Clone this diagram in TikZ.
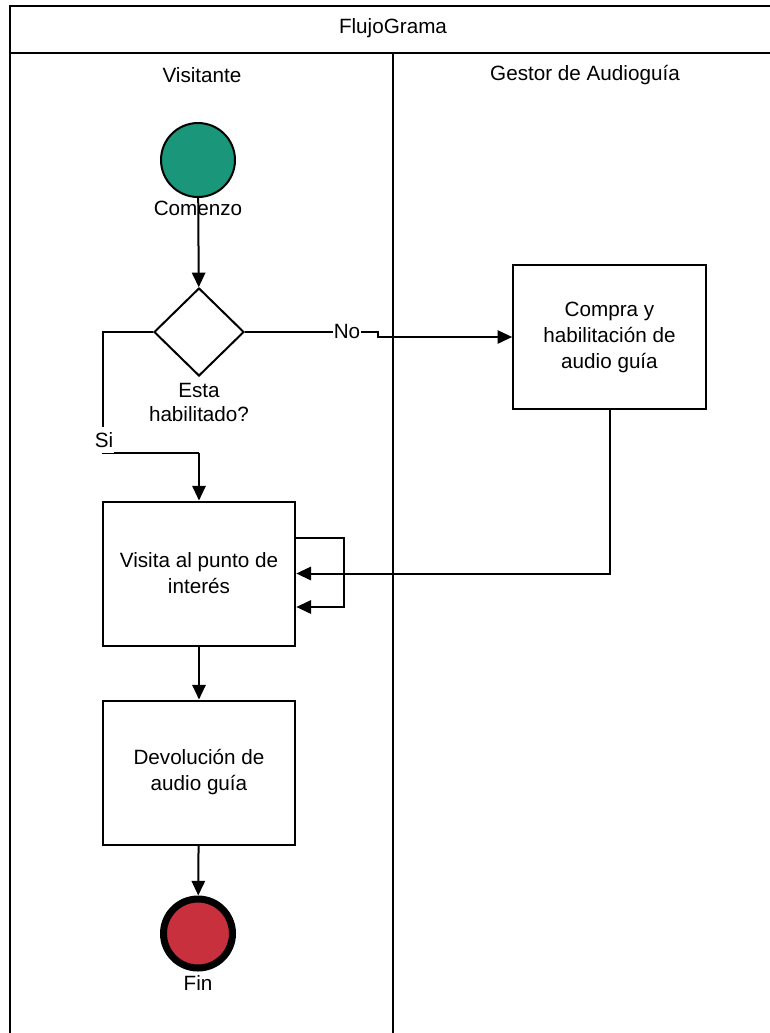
\documentclass[tikz,border=0pt]{standalone}
\usepackage{fontspec}
\setmainfont{Liberation Sans}
\usetikzlibrary{arrows.meta,shapes.geometric,calc}

\definecolor{startgreen}{RGB}{26,150,122}
\definecolor{endred}{RGB}{200,48,62}

\tikzset{every picture/.style={line width=1.5pt}}

\begin{document}
\begin{tikzpicture}[x=0.75pt,y=0.75pt,yscale=-1,xscale=1,
  flow/.style={-{Triangle[length=11pt,width=10pt]}},
  txt/.style={inner sep=0.75pt,font=\fontsize{15.5}{18}\selectfont,align=center},
  proc/.style={draw,minimum width=144.5pt,minimum height=108pt,inner sep=2pt,
    font=\fontsize{15.5}{19.5}\selectfont,align=center}]
\useasboundingbox (0,0) rectangle (770,1033);

%Pool frame
\draw (10,6) rectangle (790,1050);
\draw (10,53) -- (790,53);
\draw (393,53) -- (393,1050);

% Text Node
\node[txt] (pool) at (393,28) {FlujoGrama};
% Text Node
\node[txt] (visitante) at (202,75) {Visitante};
% Text Node
\node[txt] (gestor) at (585,75) {Gestor de Audiogu\'{\i}a};

%Shape: Circle
\node[circle,draw,fill=startgreen,minimum size=55.5pt] (start) at (198,160) {};
%Shape: Diamond
\node[diamond,draw,minimum width=67.5pt,minimum height=66pt] (dec) at (199,332) {};
%Shape: Rectangle
\node[proc] (compra) at (609.5,337) {Compra y\\habilitaci\'on de\\audio gu\'{\i}a};
%Shape: Rectangle
\node[proc] (visita) at (199,573.5) {Visita al punto de\\inter\'es};
%Shape: Rectangle
\node[proc] (devol) at (199,772.5) {Devoluci\'on de\\audio gu\'{\i}a};
%Shape: Circle
\node[circle,draw,line width=5.25pt,fill=endred,minimum size=51.75pt] (fin) at (198,933.5) {};

%Connectors
\draw[flow] (start) -- (dec);
\coordinate (nojog) at (378,337);
\draw[flow] (dec.east) -- (dec.east -| nojog) -- (nojog) -- (compra.west);
\draw (dec.west) -- (103,332) -- (103,453) -- (199,453);
\draw[flow] (199,453) -- (visita.north);
\draw[flow] (compra.south) |- (visita.east);
\draw[flow] ($(visita.east)+(0,-35.5)$) -- ++(48,0) |- ($(visita.east)+(0,33.5)$);
\draw[flow] (visita) -- (devol);
\draw[flow] (devol) -- (fin);

% Text Node
\node[txt] (startlbl) at (198,208) {Comenzo};
% Text Node
\node[txt] (declbl) at (199,402) {Esta\\habilitado?};
% Text Node
\node[txt,fill=white,minimum height=19.5pt] (nolbl) at (347,331) {No};
% Text Node
\node[txt,fill=white,minimum height=19.5pt] (silbl) at (104,440) {Si};
% Text Node
\node[txt] (finlbl) at (198,983) {Fin};
\end{tikzpicture}
\end{document}
